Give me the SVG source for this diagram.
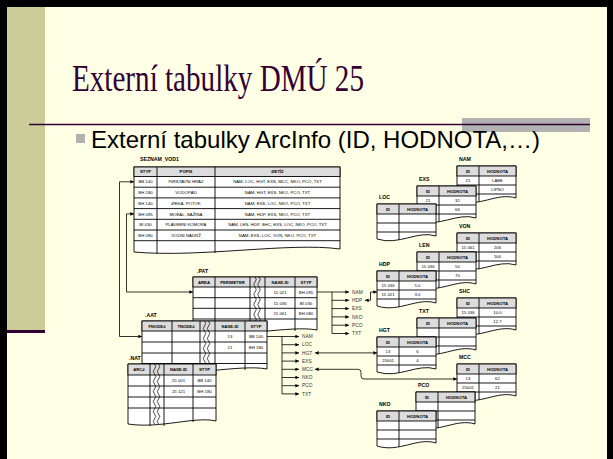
<svg xmlns="http://www.w3.org/2000/svg" width="613" height="459" viewBox="0 0 613 459">
<style>
.cell{fill:#fff;stroke:#000;stroke-width:0.9}
.hdr{fill:#dcdcdc;stroke:#000;stroke-width:0.9}
.ln{fill:none;stroke:#000;stroke-width:0.9}
.brk{fill:none;stroke:#000;stroke-width:0.7}
.t{font-family:"Liberation Sans",Arial,sans-serif;font-size:4.3px;text-anchor:middle;fill:#000}
.th{font-family:"Liberation Sans",Arial,sans-serif;font-size:4.2px;font-weight:bold;text-anchor:middle;fill:#000}
.lb{font-family:"Liberation Sans",Arial,sans-serif;font-size:5.2px;font-weight:bold;fill:#000}
.cl{font-family:"Liberation Sans",Arial,sans-serif;font-size:4.8px;fill:#333}
.con{fill:none;stroke:#000;stroke-width:0.8}
</style>
<defs>
<marker id="ah" viewBox="0 0 6 6" refX="6" refY="3" markerWidth="3.6" markerHeight="3.6" orient="auto-start-reverse" markerUnits="userSpaceOnUse"><path d="M0,0 L6,3 L0,6 Z" fill="#000"/></marker>
<g id="st">
<path class="cell" d="M0,0 H59 V32 C40,26 22,42 0,35 Z"/>
<rect class="hdr" width="59" height="10"/>
<path class="ln" d="M0,19 H59 M0,28 H59 M22,0 V35.8"/>
<text class="th" x="11" y="6.6">ID</text>
<text class="th" x="40.5" y="6.6">HODNOTA</text>
</g>
</defs>

<rect width="613" height="459" fill="#000"/>
<rect x="7" y="7" width="600" height="452" fill="#FFFFE5"/>
<rect x="7" y="7" width="38" height="323" fill="#CCCC99"/>
<rect x="7" y="330" width="38" height="3" fill="#330033"/>
<rect x="462" y="118" width="128" height="14" fill="#B2B2B2"/>
<line x1="29" y1="124.5" x2="590" y2="124.5" stroke="#330033" stroke-width="1.5"/>
<text x="72" y="91" font-family="Liberation Serif, Times New Roman, serif" font-size="37" fill="#330033" textLength="292" lengthAdjust="spacingAndGlyphs">Externí tabulky DMÚ 25</text>
<rect x="76" y="134" width="9" height="9" fill="#B2B2B2"/>
<text x="91" y="147.5" font-family="Liberation Sans, Arial, sans-serif" font-size="24" fill="#000">Externí tabulky ArcInfo (ID, HODNOTA,…)</text>

<g id="seznam">
<text class="lb" x="140" y="161">SEZNAM_VOD1</text>
<path class="cell" d="M134,167 H340 V249 C290,242 200,258 134,252 Z"/>
<rect class="hdr" x="134" y="167" width="206" height="9.5"/>
<path class="ln" d="M134,187.2 H340 M134,197.9 H340 M134,208.6 H340 M134,219.3 H340 M134,230 H340 M134,240.7 H340 M157,167 V253.5 M215,167 V253"/>
<text class="th" x="145.5" y="173.3">STYP</text>
<text class="th" x="186" y="173.3">POPIS</text>
<text class="th" x="277.5" y="173.3">ØETÌZ</text>
<text class="t" x="145.5" y="183.4">BB 140</text>
<text class="t" x="186" y="183.4">PØÍSTAVNÍ HRÁZ</text>
<text class="t" x="277.5" y="183.4">NAM, LOC, HGT, EXS, MCC, NKO, PCO, TXT</text>
<text class="t" x="145.5" y="194.1">BH 180</text>
<text class="t" x="186" y="194.1">VODOPÁD</text>
<text class="t" x="277.5" y="194.1">NAM, HGT, EXS, NKO, PCO, TXT</text>
<text class="t" x="145.5" y="204.8">BH 140</text>
<text class="t" x="186" y="204.8">ØEKA, POTOK</text>
<text class="t" x="277.5" y="204.8">NAM, EXS, LOC, NKO, PCO, TXT</text>
<text class="t" x="145.5" y="215.5">BH 095</text>
<text class="t" x="186" y="215.5">MOÈÁL, BAŽINA</text>
<text class="t" x="277.5" y="215.5">NAM, HDP, EXS, NKO, PCO, TXT</text>
<text class="t" x="145.5" y="226.2">BI 030</text>
<text class="t" x="186" y="226.2">PLAVEBNÍ KOMORA</text>
<text class="t" x="277.5" y="226.2">NAM, LEN, HDP, SHC, EXS, LOC, NKO, PCO, TXT</text>
<text class="t" x="145.5" y="236.9">BH 080</text>
<text class="t" x="186" y="236.9">VODNÍ NÁDRŽ</text>
<text class="t" x="277.5" y="236.9">NAM, EXS, LOC, VON, NKO, PCO, TXT</text>
</g>

<g id="pat">
<text class="lb" x="197" y="273">.PAT</text>
<path class="cell" d="M193,277 H317 V330 C290,325 240,338 193,333 Z"/>
<rect class="hdr" x="193" y="277" width="124" height="10"/>
<path class="ln" d="M193,297.7 H317 M193,308.3 H317 M193,319 H317 M215,277 V334 M250,277 V334 M265,277 V333 M295,277 V331"/>
<path class="brk" d="M255,277 q2.5,2.5 0,5 t0,5 t0,5 t0,5 t0,5 t0,5 t0,5 t0,5 t0,5 t0,5 t0,5 M259,277 q2.5,2.5 0,5 t0,5 t0,5 t0,5 t0,5 t0,5 t0,5 t0,5 t0,5 t0,5 t0,5"/>
<text class="th" x="204" y="283.5">AREA</text>
<text class="th" x="232.5" y="283.5">PERIMETER</text>
<text class="th" x="280" y="283.5">NASE-ID</text>
<text class="th" x="306" y="283.5">STYP</text>
<text class="t" x="280" y="293.8">15 021</text>
<text class="t" x="306" y="293.8">BH 095</text>
<text class="t" x="280" y="304.5">15 036</text>
<text class="t" x="306" y="304.5">BI 030</text>
<text class="t" x="280" y="315.2">15 061</text>
<text class="t" x="306" y="315.2">BH 080</text>
</g>

<g id="aat">
<text class="lb" x="145" y="317">.AAT</text>
<path class="cell" d="M142,321 H267 V369 C240,364 190,377 142,372 Z"/>
<rect class="hdr" x="142" y="321" width="125" height="10"/>
<path class="ln" d="M142,342 H267 M142,353 H267 M142,363.5 H267 M172,321 V373 M200,321 V373 M215,321 V372 M245,321 V370"/>
<path class="brk" d="M204.5,321 q2.5,2.5 0,5 t0,5 t0,5 t0,5 t0,5 t0,5 t0,5 t0,5 t0,5 t0,5 M208.5,321 q2.5,2.5 0,5 t0,5 t0,5 t0,5 t0,5 t0,5 t0,5 t0,5 t0,5 t0,5"/>
<text class="th" x="157" y="327.5">FNODE#</text>
<text class="th" x="186" y="327.5">TNODE#</text>
<text class="th" x="230" y="327.5">NASE-ID</text>
<text class="th" x="256" y="327.5">STYP</text>
<text class="t" x="230" y="338">13</text>
<text class="t" x="256" y="338">BB 140</text>
<text class="t" x="230" y="349">21</text>
<text class="t" x="256" y="349">BH 180</text>
</g>

<g id="nat">
<text class="lb" x="129" y="360">.NAT</text>
<path class="cell" d="M128,364 H216 V421 C195,416 160,429 128,424 Z"/>
<rect class="hdr" x="128" y="364" width="88" height="11"/>
<path class="ln" d="M128,386 H216 M128,397 H216 M128,408 H216 M150,364 V426 M164,364 V426 M193,364 V422"/>
<path class="brk" d="M154.5,364 q2.5,2.5 0,5 t0,5 t0,5 t0,5 t0,5 t0,5 t0,5 t0,5 t0,5 t0,5 t0,5 t0,5 M158.5,364 q2.5,2.5 0,5 t0,5 t0,5 t0,5 t0,5 t0,5 t0,5 t0,5 t0,5 t0,5 t0,5 t0,5"/>
<text class="th" x="139" y="371">ARC#</text>
<text class="th" x="178.5" y="371">NASE-ID</text>
<text class="th" x="204.5" y="371">STYP</text>
<text class="t" x="178.5" y="382">25 001</text>
<text class="t" x="204.5" y="382">BB 140</text>
<text class="t" x="178.5" y="393">25 121</text>
<text class="t" x="204.5" y="393">BH 180</text>
</g>

<g id="nam"><text class="lb" x="459" y="161">NAM</text><use href="#st" x="457" y="166"/>
<text class="t" x="468" y="182">21</text><text class="t" x="497.5" y="182">LABE</text><text class="t" x="497.5" y="191">LIPNO</text></g>
<g id="exs"><text class="lb" x="419" y="181">EXS</text><use href="#st" x="417" y="186"/>
<text class="t" x="428" y="202">21</text><text class="t" x="457.5" y="202">32</text><text class="t" x="457.5" y="211">66</text></g>
<g id="loc"><text class="lb" x="379" y="199">LOC</text><use href="#st" x="377" y="204"/></g>

<g id="von"><text class="lb" x="459" y="228">VON</text><use href="#st" x="457" y="233"/>
<text class="t" x="468" y="249">15 061</text><text class="t" x="497.5" y="249">206</text><text class="t" x="497.5" y="258">500</text></g>
<g id="len"><text class="lb" x="419" y="247">LEN</text><use href="#st" x="417" y="252"/>
<text class="t" x="428" y="268">15 036</text><text class="t" x="457.5" y="268">50</text><text class="t" x="457.5" y="277">70</text></g>
<g id="hdp"><text class="lb" x="379" y="266">HDP</text><use href="#st" x="377" y="271"/>
<text class="t" x="388" y="287">15 036</text><text class="t" x="417.5" y="287">5.0</text><text class="t" x="388" y="296">15 021</text><text class="t" x="417.5" y="296">3.0</text></g>

<g id="shc"><text class="lb" x="459" y="293">SHC</text><use href="#st" x="457" y="298"/>
<text class="t" x="468" y="314">15 036</text><text class="t" x="497.5" y="314">10.0</text><text class="t" x="497.5" y="323">12.7</text></g>
<g id="txt"><text class="lb" x="419" y="313">TXT</text><use href="#st" x="417" y="318"/></g>
<g id="hgt"><text class="lb" x="379" y="332">HGT</text><use href="#st" x="377" y="337"/>
<text class="t" x="388" y="353">13</text><text class="t" x="417.5" y="353">6</text><text class="t" x="388" y="362">25001</text><text class="t" x="417.5" y="362">4</text></g>

<g id="mcc"><text class="lb" x="459" y="359">MCC</text><use href="#st" x="457" y="364"/>
<text class="t" x="468" y="380">13</text><text class="t" x="497.5" y="380">62</text><text class="t" x="468" y="389">25001</text><text class="t" x="497.5" y="389">21</text></g>
<g id="pco"><text class="lb" x="418" y="387">PCO</text><use href="#st" x="416" y="392"/></g>
<g id="nko"><text class="lb" x="379" y="406">NKO</text><use href="#st" x="377" y="411"/></g>

<g id="connectors">
<path class="con" d="M142,336.5 H119.5 V181.8 H134" marker-start="url(#ah)" marker-end="url(#ah)"/>
<path class="con" d="M193,292 H126.5 V213.9 H134" marker-start="url(#ah)" marker-end="url(#ah)"/>
<path class="con" d="M332,292 V333.5"/>
<path class="con" d="M317,292 H349" marker-end="url(#ah)"/>
<path class="con" d="M332,300.3 H349" marker-end="url(#ah)"/>
<path class="con" d="M332,308.6 H349" marker-end="url(#ah)"/>
<path class="con" d="M332,316.9 H349" marker-end="url(#ah)"/>
<path class="con" d="M332,325.2 H349" marker-end="url(#ah)"/>
<path class="con" d="M332,333.5 H349" marker-end="url(#ah)"/>
<path class="con" d="M365,300.3 H370.5 V292 H377" marker-start="url(#ah)" marker-end="url(#ah)"/>
<path class="con" d="M282,336.5 V393.9"/>
<path class="con" d="M267,336.5 H299" marker-end="url(#ah)"/>
<path class="con" d="M282,344.7 H299" marker-end="url(#ah)"/>
<path class="con" d="M282,352.9 H299" marker-end="url(#ah)"/>
<path class="con" d="M282,361.1 H299" marker-end="url(#ah)"/>
<path class="con" d="M282,369.3 H299" marker-end="url(#ah)"/>
<path class="con" d="M282,377.5 H299" marker-end="url(#ah)"/>
<path class="con" d="M282,385.7 H299" marker-end="url(#ah)"/>
<path class="con" d="M282,393.9 H299" marker-end="url(#ah)"/>
<path class="con" d="M315,352.9 H377" marker-start="url(#ah)" marker-end="url(#ah)"/>
<path class="con" d="M315,369.3 H358 Q361,369.3 361,372.3 V376 Q361,379 364,379 H457" marker-start="url(#ah)" marker-end="url(#ah)"/>
<text class="cl" x="352" y="293.7">NAM</text>
<text class="cl" x="352" y="302">HDP</text>
<text class="cl" x="352" y="310.3">EXS</text>
<text class="cl" x="352" y="318.6">NKO</text>
<text class="cl" x="352" y="326.9">PCO</text>
<text class="cl" x="352" y="335.2">TXT</text>
<text class="cl" x="302" y="338.2">NAM</text>
<text class="cl" x="302" y="346.4">LOC</text>
<text class="cl" x="302" y="354.6">HGT</text>
<text class="cl" x="302" y="362.8">EXS</text>
<text class="cl" x="302" y="371">MCC</text>
<text class="cl" x="302" y="379.2">NKO</text>
<text class="cl" x="302" y="387.4">PCO</text>
<text class="cl" x="302" y="395.6">TXT</text>
</g>
</svg>
